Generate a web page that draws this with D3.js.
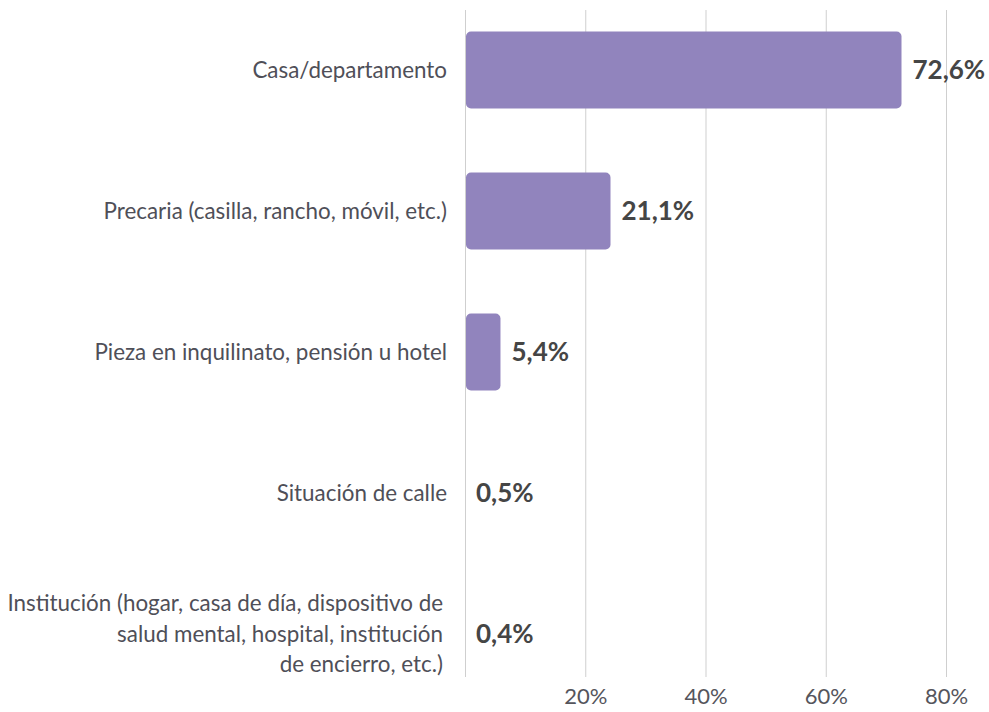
<!DOCTYPE html>
<meta charset="utf-8">
<style>
body { margin: 0; background: #fff; }
.bar { fill: #9184bd; }
.cat { font: 22.4px Lato, sans-serif; fill: #4f4f58; }
.val { font: bold 26px Lato, sans-serif; fill: #454545; }
.axis text { font: 22px Lato, sans-serif; fill: #55555c; }
.axis line { stroke: #cfcfcf; }
</style>
<body>
<script src="https://d3js.org/d3.v7.min.js"></script>
<script>

// categories (each one split in the lines it is drawn on)
var categories = [
  ["Casa/departamento"],
  ["Precaria (casilla, rancho, móvil, etc.)"],
  ["Pieza en inquilinato, pensión u hotel"],
  ["Situación de calle"],
  ["Institución (hogar, casa de día, dispositivo de", "salud mental, hospital, institución", "de encierro, etc.)"]
];
// bar lengths as drawn in the picture (%)
var barValues = [72.6, 24.2, 5.9, 0, 0];
// value labels printed next to the bars
var valueLabels = ["72,6%", "21,1%", "5,4%", "0,5%", "0,4%"];
// x ticks
var tickValues = [0, 20, 40, 60, 80];

var width = 989, height = 712;

var svg = d3.select("body").append("svg")
    .attr("width", width)
    .attr("height", height);

// scales
var x = d3.scaleLinear().domain([0, 80]).range([465, 946]);
var y = d3.scaleBand()
    .domain(d3.range(categories.length))
    .range([-0.5, 704.5])
    .paddingInner(0.454)
    .paddingOuter(0.227);

var gridTop = 10, gridBottom = 677;

// gridlines + tick labels
var axis = svg.append("g")
    .attr("class", "axis")
    .attr("transform", "translate(0," + gridBottom + ")")
    .call(d3.axisBottom(x)
      .tickValues(tickValues)
      .tickSize(-(gridBottom - gridTop))
      .tickFormat(function(d) { return d === 0 ? "" : d + "%"; }));
axis.select(".domain").remove();
axis.selectAll("text").attr("y", 11).attr("dy", "0.71em");

// bars
svg.selectAll(".bar")
    .data(barValues)
  .enter().append("rect")
    .attr("class", "bar")
    .attr("x", x(0) + 1)
    .attr("y", function(d, i) { return y(i); })
    .attr("width", function(d) { return Math.max(0, x(d) - x(0) - 1); })
    .attr("height", y.bandwidth())
    .attr("rx", 5);

// value labels
svg.selectAll(".val")
    .data(valueLabels)
  .enter().append("text")
    .attr("class", "val")
    .attr("x", function(d, i) { return x(barValues[i]) + 11; })
    .attr("y", function(d, i) { return y(i) + y.bandwidth() / 2; })
    .attr("dy", "0.35em")
    .text(function(d) { return d; });

// category labels
var lineHeight = 30.5;
var cat = svg.selectAll(".cat")
    .data(categories)
  .enter().append("text")
    .attr("class", "cat")
    .attr("text-anchor", "end")
    .attr("x", 447)
    .attr("y", function(d, i) { return y(i) + y.bandwidth() / 2; });

cat.selectAll("tspan")
    .data(function(d) { return d.map(function(t, j) { return {t: t, j: j, n: d.length}; }); })
  .enter().append("tspan")
    .attr("x", function(d) { return d.n > 1 ? 443 : 447; })
    .attr("dy", function(d) {
      return d.j === 0 ? (0.35 * 22.4 - (d.n - 1) * lineHeight / 2) : lineHeight;
    })
    .text(function(d) { return d.t; });

</script>
</body>
